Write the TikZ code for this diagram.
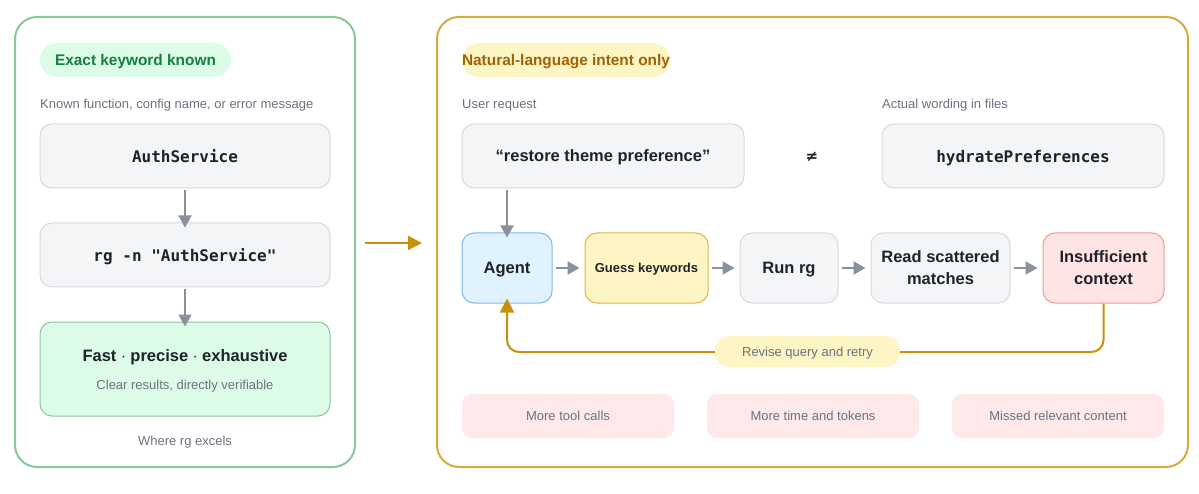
\documentclass[tikz,border=0pt]{standalone}
\usepackage{fontspec}
\setmainfont{Liberation Sans}
\newfontfamily\monof{DejaVu Sans Mono}
\newfontfamily\symf{DejaVu Sans}
\usetikzlibrary{arrows.meta,positioning}
\definecolor{gstroke}{HTML}{88C999}
\definecolor{gfill}{HTML}{DCFCE7}
\definecolor{gtext}{HTML}{15803D}
\definecolor{boxfill}{HTML}{F4F5F7}
\definecolor{boxline}{HTML}{D6D9DE}
\definecolor{gold}{HTML}{C8900E}
\definecolor{goldpanel}{HTML}{D6AA3C}
\definecolor{yfill}{HTML}{FEF5C4}
\definecolor{ytext}{HTML}{A16207}
\definecolor{bfill}{HTML}{E0F2FE}
\definecolor{bline}{HTML}{7BB8EE}
\definecolor{yline}{HTML}{DCB54C}
\definecolor{rfill}{HTML}{FEE4E4}
\definecolor{rline}{HTML}{EF9A9A}
\definecolor{pfill}{HTML}{FDE9E9}
\definecolor{dark}{HTML}{1F2328}
\definecolor{muted}{HTML}{6B7280}
\definecolor{arr}{HTML}{8A919B}
\begin{document}
\begin{tikzpicture}[x=1pt,y=-1pt,
  every node/.append style={text depth=0pt},
  panel/.style={draw, line width=2pt, rounded corners=22pt, fill=white},
  pill/.style={rounded corners=17pt, minimum height=34pt, inner sep=0pt, font=\bfseries\fontsize{15.4}{18}\selectfont},
  caption/.style={anchor=west, inner sep=0pt, text=muted, font=\fontsize{13}{16}\selectfont},
  codebox/.style={draw=boxline, fill=boxfill, line width=1pt, rounded corners=12pt, minimum width=290pt, minimum height=64pt, inner sep=0pt, text=dark, font=\monof\bfseries\fontsize{16}{19}\selectfont},
  flow/.style={draw, line width=1pt, rounded corners=12pt, minimum height=70pt, inner sep=0pt, align=center, text=dark, font=\bfseries\fontsize{16.5}{22}\selectfont},
  cost/.style={fill=pfill, rounded corners=10pt, minimum width=212pt, minimum height=44pt, inner sep=0pt, text=muted, font=\fontsize{13}{16}\selectfont},
  garrow/.style={draw=arr, line width=2pt, -{Triangle[length=12pt,width=13pt]}, fill=arr},
]
\useasboundingbox (0,0) rectangle (1199,494);
\fill[white] (0,0) rectangle (1199,494);
% left panel
\draw[panel, draw=gstroke] (15,17) rectangle (355,467);
\node[pill, fill=gfill, text=gtext, minimum width=191pt] (p1) at (135.5,60) {Exact keyword known};
\node[caption] (c1) at (40,104) {Known function, config name, or error message};
\node[codebox] (auth) at (185,156) {AuthService};
\node[codebox] (rgn) at (185,255) {rg -n "AuthService"};
\node[draw=gstroke, fill=gfill, line width=1pt, rounded corners=12pt, minimum width=290pt, minimum height=94pt, inner sep=0pt] (fast) at (185,369) {};
\node[text=dark, font=\bfseries\fontsize{16.5}{20}\selectfont] (fastt) at (185,356) {Fast $\cdot$ precise $\cdot$ exhaustive};
\node[text=muted, font=\fontsize{13}{16}\selectfont] (fasts) at (185,385) {Clear results, directly verifiable};
\node[text=muted, font=\fontsize{13}{16}\selectfont] (where) at (185,441) {Where rg excels};
\draw[garrow] (auth.south) ++(0,2) -- ([yshift=-5pt]rgn.north);
\draw[garrow] (rgn.south) ++(0,2) -- ([yshift=-5pt]fast.north);
% middle arrow
\coordinate (m1) at (365,243);
\coordinate (m2) at (422,243);
\draw[draw=gold, line width=2pt, -{Triangle[length=14pt,width=14pt]}] (m1) -- (m2);
% right panel
\draw[panel, draw=goldpanel] (437,17) rectangle (1188,467);
\node[pill, fill=yfill, text=ytext, minimum width=208pt] (p2) at (566,60) {Natural-language intent only};
\node[caption] (c2) at (462,104) {User request};
\node[caption] (c3) at (882,104) {Actual wording in files};
\node[codebox, minimum width=282pt, font=\bfseries\fontsize{16.5}{20}\selectfont] (req) at (603,156) {“restore theme preference”};
\node[text=dark, font=\symf\bfseries\fontsize{15}{18}\selectfont] (neq) at (812,157) {≠};
\node[codebox, minimum width=282pt] (hyd) at (1023,156) {hydratePreferences};
% flow row
\node[flow, draw=bline, fill=bfill, minimum width=90pt] (agent) at (507,268) {Agent};
\node[flow, draw=yline, fill=yfill, minimum width=123pt, font=\bfseries\fontsize{13}{16}\selectfont] (guess) at (646.5,268) {Guess keywords};
\node[flow, draw=boxline, fill=boxfill, minimum width=98pt] (run) at (789,268) {Run rg};
\node[flow, draw=boxline, fill=boxfill, minimum width=139pt] (read) at (940.5,268) {Read scattered\\matches};
\node[flow, draw=rline, fill=rfill, minimum width=121pt] (ins) at (1103.5,268) {Insufficient\\context};
\draw[garrow] ([yshift=-2pt]req.south -| agent.north) -- ([yshift=-5pt]agent.north);
\draw[garrow] ([xshift=3pt]agent.east) -- ([xshift=-5pt]guess.west);
\draw[garrow] ([xshift=3pt]guess.east) -- ([xshift=-5pt]run.west);
\draw[garrow] ([xshift=3pt]run.east) -- ([xshift=-5pt]read.west);
\draw[garrow] ([xshift=3pt]read.east) -- ([xshift=-5pt]ins.west);
% loop
\coordinate (lp) at (507,352);
\draw[draw=gold, line width=2pt, rounded corners=12pt, -{Triangle[length=14pt,width=14pt]}] (ins.south) |- (lp) -- ([yshift=5pt]agent.south);
\node[fill=yfill, rounded corners=15pt, minimum width=185pt, minimum height=31pt, inner sep=0pt, text=muted, font=\fontsize{13}{16}\selectfont] (rev) at (807.5,351.5) {Revise query and retry};
% costs
\node[cost] (k1) at (568,416) {More tool calls};
\node[cost] (k2) at (813,416) {More time and tokens};
\node[cost] (k3) at (1058,416) {Missed relevant content};
\end{tikzpicture}
\end{document}
